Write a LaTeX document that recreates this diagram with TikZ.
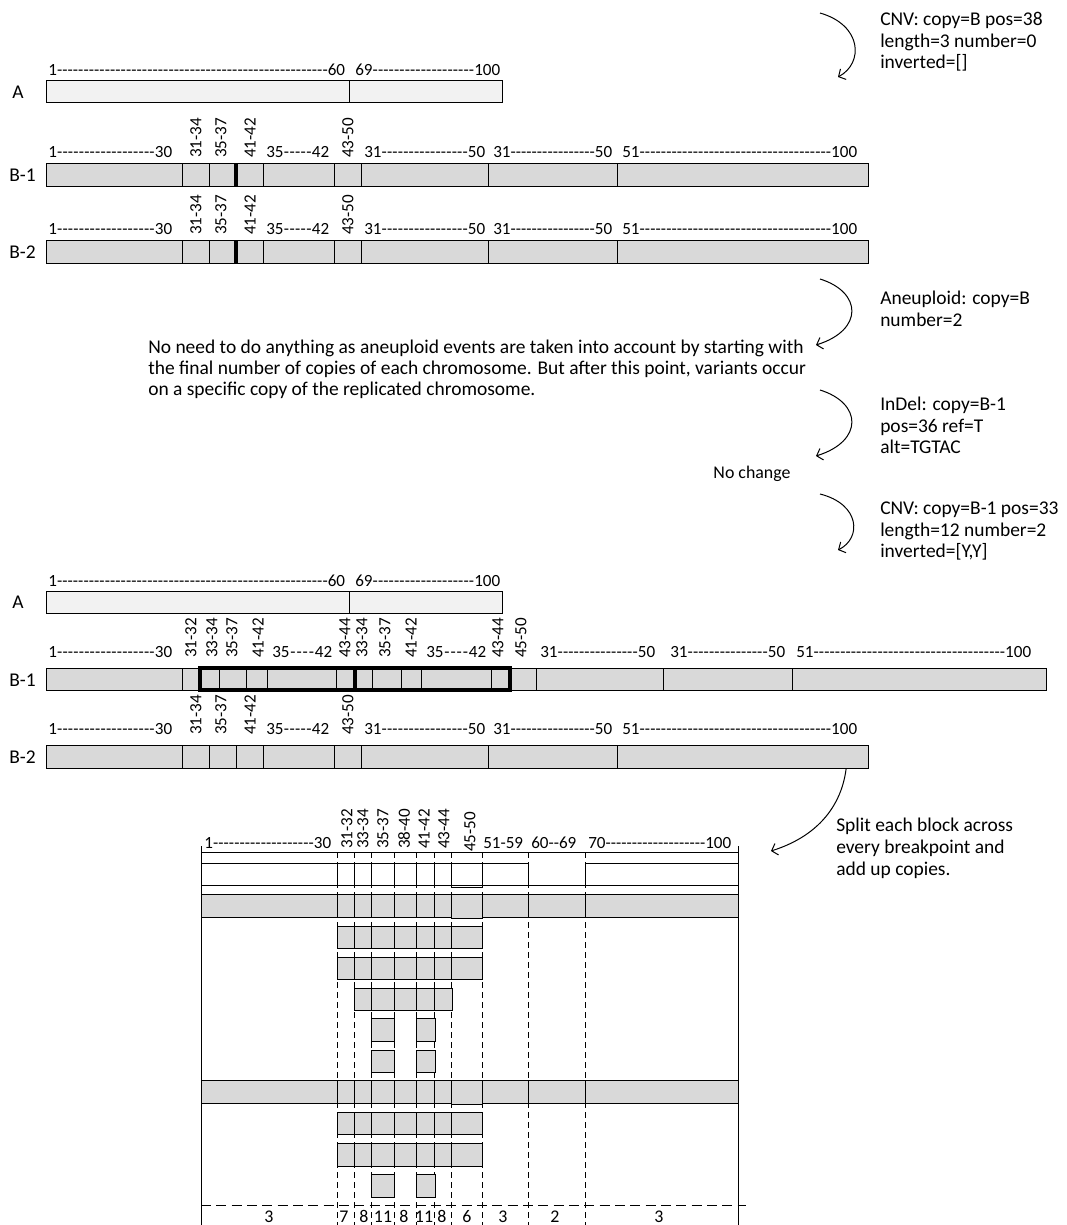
\documentclass[tikz,border=0pt]{standalone}
\usepackage{fontspec}
\setmainfont{Carlito}
\usetikzlibrary{arrows.meta}
\newdimen\pxu \pxu=0.75pt
\newcommand\rng[3]{\hbox to #1\pxu{#2\xleaders\hbox{-}\hfill #3}}
\definecolor{bgrey}{HTML}{D9D9D9}
\definecolor{awhite}{HTML}{F2F2F2}
\newcommand\blab[2]{%
\node[bh] (#2a) at (48,#1) {\rng{124}{1}{30}};
\node[rl] (#2b) at (196,{#1+1}) {31-34};
\node[rl] (#2c) at (221,{#1+1}) {35-37};
\node[rl] (#2d) at (250,{#1+1}) {41-42};
\node[bh] (#2e) at (266,#1) {\rng{63}{35}{42}};
\node[rl] (#2f) at (348,{#1+1}) {43-50};
\node[bh] (#2g) at (364,#1) {\rng{121}{31}{50}};
\node[bh] (#2h) at (493,#1) {\rng{119}{31}{50}};
\node[bh] (#2i) at (622,#1) {\rng{235}{51}{100}};
}
\newcommand\bbar[1]{%
\draw[bar] (46,#1) rectangle (868,{#1+23});
\foreach \x in {182,209,236,263,334,361,488,617} \draw[bl] (\x,#1)--(\x,{#1+23});
}
\begin{document}
\begin{tikzpicture}[x=0.75pt,y=-0.75pt,
  every node/.style={font=\fontsize{14.6}{17}\selectfont, inner sep=0pt},
  hl/.style={anchor=base west},
  bh/.style={anchor=base west, font=\fontsize{12.8}{15}\selectfont},
  rl/.style={rotate=90, anchor=west, font=\fontsize{12.8}{15}\selectfont},
  bl/.style={line width=0.75pt},
  bar/.style={draw, line width=0.75pt, fill=bgrey},
  abar/.style={draw, line width=0.75pt, fill=awhite},
  wcell/.style={draw, line width=0.75pt, fill=white},
  gcell/.style={draw, line width=0.75pt, fill=bgrey},
  thk/.style={line width=2.4pt},
  curvy/.style={line width=0.75pt, -{Straight Barb[length=4pt,width=9pt]}},
  vdash/.style={line width=0.75pt, dash pattern=on 4.5pt off 3pt},
  hdash/.style={line width=0.75pt, dash pattern=on 7.5pt off 4pt}]
\useasboundingbox (0,0) rectangle (1067,1225);

% ---------- annotations right
\node[hl] (c1a) at (880,25) {CNV: copy=B pos=38};
\node[hl] (c1b) at (880,47) {length=3 number=0};
\node[hl] (c1c) at (880,68) {inverted=[]};
\coordinate (a1s) at (820,13); \coordinate (a1e) at (838,77);
\draw[curvy] (a1s) .. controls (862,25) and (864,63) .. (a1e);

\node[hl] (c2a) at (880,304) {Aneuploid: copy=B};
\node[hl] (c2b) at (880,326) {number=2};
\coordinate (a2s) at (820,279); \coordinate (a2e) at (816,345);
\draw[curvy] (a2s) .. controls (862,292) and (864,330) .. (a2e);

\node[hl] (m1) at (148,353) {No need to do anything as aneuploid events are taken into account by starting with};
\node[hl] (m2) at (148,374) {the final number of copies of each chromosome. But after this point, variants occur};
\node[hl] (m3) at (148,395) {on a specific copy of the replicated chromosome.};

\node[hl] (c3a) at (880,410) {InDel: copy=B-1};
\node[hl] (c3b) at (880,432) {pos=36 ref=T};
\node[hl] (c3c) at (880,453) {alt=TGTAC};
\coordinate (a3s) at (820,390); \coordinate (a3e) at (816,456);
\draw[curvy] (a3s) .. controls (862,403) and (864,441) .. (a3e);

\node[anchor=base, font=\fontsize{13.4}{16}\selectfont] (nc) at (752,478) {No change};

\node[hl] (c4a) at (880,514) {CNV: copy=B-1 pos=33};
\node[hl] (c4b) at (880,536) {length=12 number=2};
\node[hl] (c4c) at (880,557) {inverted=[Y,Y]};
\coordinate (a4s) at (820,494); \coordinate (a4e) at (838,550);
\draw[curvy] (a4s) .. controls (860,504) and (862,538) .. (a4e);

\node[hl] (s1) at (836,831) {Split each block across};
\node[hl] (s2) at (836,853) {every breakpoint and};
\node[hl] (s3) at (836,875) {add up copies.};
\coordinate (a5s) at (847,757); \coordinate (a5e) at (771,851);
\draw[curvy] (a5s) .. controls (846,800) and (822,835) .. (a5e);

% ---------- section 1
\node[bh] (p1a) at (48,75) {\rng{297}{1}{60}};
\node[bh] (p1b) at (355,75) {\rng{145}{69}{100}};
\node[anchor=west] (p1A) at (12,92) {A};
\draw[abar] (46,80) rectangle (502,102);
\draw[bl] (349,80) -- (349,102);

\node[anchor=west] (p1B1) at (9,175) {B-1};
\blab{157}{u}
\bbar{163}
\draw[thk] (236,163)--(236,186);

\node[anchor=west] (p1B2) at (9,252) {B-2};
\blab{234}{v}
\bbar{240}
\draw[thk] (236,240)--(236,263);

% ---------- section 2
\node[bh] (p2a) at (48,586) {\rng{297}{1}{60}};
\node[bh] (p2b) at (355,586) {\rng{145}{69}{100}};
\node[anchor=west] (p2A) at (12,602) {A};
\draw[abar] (46,591) rectangle (502,613);
\draw[bl] (349,591) -- (349,613);

\node[anchor=west] (p2B1) at (9,680) {B-1};
\node[bh] (w1) at (48,657) {\rng{124}{1}{30}};
\node[rl] (w2) at (191,658) {31-32};
\node[rl] (w3) at (212,658) {33-34};
\node[rl] (w4) at (232,658) {35-37};
\node[rl] (w5) at (258,658) {41-42};
\node[bh] (w6) at (272,657) {\rng{60}{35}{42}};
\node[rl] (w7) at (345,658) {43-44};
\node[rl] (w8) at (362,658) {33-34};
\node[rl] (w9) at (385,658) {35-37};
\node[rl] (w10) at (411,658) {41-42};
\node[bh] (w11) at (426,657) {\rng{60}{35}{42}};
\node[rl] (w12) at (498,658) {43-44};
\node[rl] (w13) at (521,658) {45-50};
\node[bh] (w14) at (540,657) {\rng{115}{31}{50}};
\node[bh] (w15) at (670,657) {\rng{115}{31}{50}};
\node[bh] (w16) at (796,657) {\rng{235}{51}{100}};
\draw[bar] (46,668) rectangle (1046,690);
\foreach \x in {182,219,246,267,336,372,401,421,491,536,663,792} \draw[bl] (\x,668)--(\x,690);
\draw[thk] (200,668) rectangle (510,690);
\draw[thk] (355,668)--(355,690);

\node[anchor=west] (p2B2) at (9,757) {B-2};
\blab{734}{x}
\bbar{745}

% ---------- bottom table
\node[bh] (t1) at (204,848) {\rng{127}{1}{30}};
\node[rl] (t2) at (347,849) {31-32};
\node[rl] (t3) at (363,849) {33-34};
\node[rl] (t4) at (383,849) {35-37};
\node[rl] (t5) at (404,849) {38-40};
\node[rl] (t6) at (424,849) {41-42};
\node[rl] (t7) at (444,849) {43-44};
\node[rl] (t8) at (470,852) {45-50};
\node[bh] (t9) at (483,848) {51-59};
\node[bh] (t10) at (531,848) {60{-}{-}69};
\node[bh] (t11) at (588,848) {\rng{143}{70}{100}};

\foreach \x in {337,354,371,394,416,434,451,482,528,585} \draw[vdash] (\x,852)--(\x,1225);
\draw[bl] (201,846)--(201,1225);
\draw[bl] (738,846)--(738,1225);
\draw[bl] (201,852)--(738,852);
\draw[hdash] (201,1205)--(746,1205);

% white row
\foreach \a/\b in {201/337,337/354,354/371,371/394,394/416,416/434,434/451,482/528,585/738}
  \draw[wcell] (\a,863) rectangle (\b,885);
\draw[wcell] (451,863) rectangle (482,887);
\draw[bl] (201,885)--(738,885);

% full grey rows
\foreach \y in {894,1080} {
  \foreach \a/\b in {201/337,337/354,354/371,371/394,394/416,416/434,434/451,482/528,528/585,585/738}
    \draw[gcell] (\a,\y) rectangle (\b,{\y+23});
  \draw[gcell] (451,\y) rectangle (482,{\y+24.5});
}
% partial rows c1..c7
\foreach \y in {926,957,1112,1143.5}
  \foreach \a/\b in {337/354,354/371,371/394,394/416,416/434,434/451,451/482}
    \draw[gcell] (\a,\y) rectangle (\b,{\y+22.6});
% c2..c6
\foreach \a/\b in {354/371,371/394,394/416,416/434,434/452}
  \draw[gcell] (\a,988) rectangle (\b,1010.6);
% small boxes
\foreach \y in {1018.5,1050,1174.5} {
  \draw[gcell] (371,\y) rectangle (394,{\y+22.6});
  \draw[gcell] (416,\y) rectangle (435,{\y+22.6});
}
% counts
\foreach \x/\n [count=\i] in {269/3,344/7,364/8,383/11,404/8,424/11,442/8,467/6,503/3,555/2,659/3}
  \node[anchor=base, font=\fontsize{13.4}{16}\selectfont] (n\i) at (\x,1222) {\n};
\end{tikzpicture}
\end{document}
